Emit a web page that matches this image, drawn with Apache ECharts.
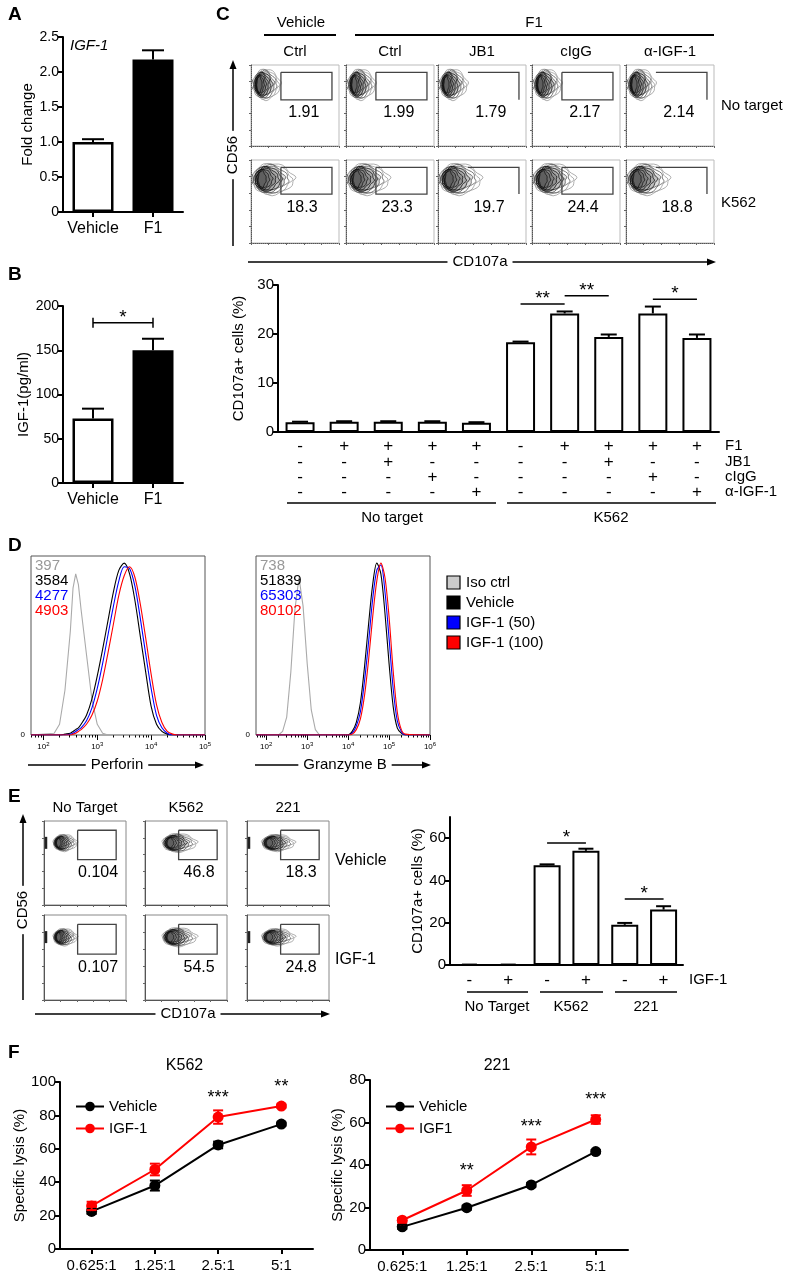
<!DOCTYPE html>
<html>
<head>
<meta charset="utf-8">
<script src="https://cdn.jsdelivr.net/npm/echarts@6.0.0/dist/echarts.min.js"></script>
<style>
html, body { margin: 0; background: #fff; }
#main { width: 789px; height: 1274px; }
</style>
</head>
<body>
<div id="main"></div>
<script>
// ---- data ----
var groupsA = ['Vehicle', 'F1'];
var foldChange = [1.0, 2.18];
var foldChangeErr = [0.04, 0.13];
var igfConc = [73, 150];
var igfConcErr = [11, 13];

var cCols = ['Ctrl', 'Ctrl', 'JB1', 'cIgG', 'α-IGF-1'];
var cNoTarget = [1.91, 1.99, 1.79, 2.17, 2.14];
var cK562 = [18.3, 23.3, 19.7, 24.4, 18.8];

var cbarTarget = ['No target', 'No target', 'No target', 'No target', 'No target', 'K562', 'K562', 'K562', 'K562', 'K562'];
var cbarValues = [2.0, 2.1, 2.1, 2.1, 1.9, 18.3, 24.2, 19.4, 24.2, 19.2];
var cbarErr = [0.1, 0.1, 0.1, 0.1, 0.1, 0.15, 0.4, 0.5, 1.4, 0.7];
var rowF1 = ['-', '+', '+', '+', '+', '-', '+', '+', '+', '+'];
var rowJB1 = ['-', '-', '+', '-', '-', '-', '-', '+', '-', '-'];
var rowIgG = ['-', '-', '-', '+', '-', '-', '-', '-', '+', '-'];
var rowAnti = ['-', '-', '-', '-', '+', '-', '-', '-', '-', '+'];
var cSig = [[5, 6, 26.1], [6, 7, 27.8], [8, 9, 27.1]];
var cSigText = ['**', '**', '*'];

var perfX = [1.77, 2.2, 2.3, 2.4, 2.5, 2.55, 2.6, 2.65, 2.7, 2.8, 2.9, 3.0, 3.1, 3.2, 3.3, 3.4, 3.5, 3.6, 3.7, 3.8, 3.9, 4.0, 4.1, 4.2, 4.3, 4.4, 4.5, 5.0];
var perfIso = [0, 1, 6, 25, 58, 82, 90, 84, 70, 45, 20, 6, 1, 0, 0, 0, 0, 0, 0, 0, 0, 0, 0, 0, 0, 0, 0, 0];
var perfVeh = [0, 0, 0, 0.5, 1, 2, 3, 4, 6, 11, 20, 33, 48, 64, 80, 92, 96, 90, 75, 55, 35, 16, 6, 2, 0.5, 0, 0, 0];
var perfIgf50 = [0, 0, 0, 0, 0.5, 1, 2, 3, 4, 8, 15, 26, 40, 56, 72, 86, 94, 93, 83, 65, 45, 26, 11, 4, 1, 0, 0, 0];
var perfIgf100 = [0, 0, 0, 0, 0, 0.5, 1, 2, 3, 6, 11, 19, 31, 46, 62, 78, 89, 94, 88, 73, 54, 34, 17, 7, 2, 0.5, 0, 0];
var perfMfi = ['397', '3584', '4277', '4903'];

var gzX = [1.75, 2.3, 2.4, 2.5, 2.6, 2.7, 2.8, 2.9, 3.0, 3.1, 3.2, 3.3, 3.9, 4.0, 4.1, 4.2, 4.3, 4.4, 4.5, 4.6, 4.7, 4.8, 4.9, 5.0, 5.1, 5.2, 5.3, 5.4, 6.0];
var gzIso = [0, 0, 2, 10, 35, 70, 88, 72, 40, 14, 3, 0, 0, 0, 0, 0, 0, 0, 0, 0, 0, 0, 0, 0, 0, 0, 0, 0, 0];
var gzVeh = [0, 0, 0, 0, 0, 0, 0, 0, 0, 0, 0, 0, 0, 0, 2, 7, 18, 38, 62, 84, 96, 90, 68, 40, 16, 4, 1, 0, 0];
var gzIgf50 = [0, 0, 0, 0, 0, 0, 0, 0, 0, 0, 0, 0, 0, 0, 1, 5, 13, 30, 52, 76, 92, 95, 80, 54, 26, 8, 2, 0, 0];
var gzIgf100 = [0, 0, 0, 0, 0, 0, 0, 0, 0, 0, 0, 0, 0, 0, 0.5, 3, 9, 22, 42, 66, 86, 96, 88, 66, 36, 13, 3, 0.5, 0];
var gzMfi = ['738', '51839', '65303', '80102'];
var perfTicks = [2, 3, 4, 5];
var gzTicks = [2, 3, 4, 5, 6];
var dLegend = ['Iso ctrl', 'Vehicle', 'IGF-1 (50)', 'IGF-1 (100)'];

var eCols = ['No Target', 'K562', '221'];
var eVehicle = [0.104, 46.8, 18.3];
var eIgf = [0.107, 54.5, 24.8];
var ebarTarget = ['No Target', 'No Target', 'K562', 'K562', '221', '221'];
var ebarValues = [0.1, 0.1, 47.2, 54.0, 19.0, 26.2];
var ebarErr = [0.1, 0.1, 0.4, 1.0, 0.9, 1.6];
var rowIgf = ['-', '+', '-', '+', '-', '+'];
var eSig = [[2, 3, 57.7], [4, 5, 31.2]];
var eSigText = ['*', '*'];

var ratios = ['0.625:1', '1.25:1', '2.5:1', '5:1'];
var k562Veh = [22.5, 38, 62.3, 74.8];
var k562VehErr = [1.5, 3, 2, 1];
var k562Igf = [25.8, 47.6, 79, 85.6];
var k562IgfErr = [2.5, 3.5, 4, 1];
var k562Stars = ['', '', '***', '**'];
var c221Veh = [10.9, 19.9, 30.6, 46.3];
var c221VehErr = [1, 1, 1, 0.8];
var c221Igf = [14, 28, 48.5, 61.4];
var c221IgfErr = [1, 2.5, 3.5, 2];
var c221Stars = ['', '**', '***', '***'];

// ---- helpers ----
var FONT = 'Liberation Sans';
var grids = [], xAxes = [], yAxes = [], series = [], graphics = [], legends = [];

function addGrid(l, t, w, h, extra) {
  grids.push(Object.assign({left: l, top: t, width: w, height: h}, extra || {}));
  return grids.length - 1;
}
function addX(o) { xAxes.push(o); return xAxes.length - 1; }
function addY(o) { yAxes.push(o); return yAxes.length - 1; }

var blackLine = {show: true, lineStyle: {color: '#000', width: 2}};

function statY(g, max, step, name, gap, fmt, custom) {
  return addY({
    gridIndex: g, type: 'value', min: 0, max: max, interval: step,
    axisLine: blackLine,
    axisTick: {show: true, length: 5, customValues: custom, lineStyle: {color: '#000', width: 2}},
    axisLabel: {fontSize: 14, color: '#000', margin: 4, formatter: fmt, customValues: custom},
    splitLine: {show: false},
    name: name, nameLocation: 'middle', nameGap: gap,
    nameTextStyle: {fontSize: 15, color: '#000'}
  });
}
function catX(g, cats, showLabels, ticks) {
  return addX({
    gridIndex: g, type: 'category', data: cats, position: 'bottom',
    axisLine: blackLine,
    axisTick: {show: ticks, alignWithLabel: true, length: 5, lineStyle: {color: '#000', width: 2}},
    axisLabel: {show: showLabels, fontSize: 15, color: '#000', margin: 9, interval: 0}
  });
}
function rowAxis(g, row, off, name) {
  return addX({
    gridIndex: g, type: 'category', data: row, position: 'bottom', offset: off,
    axisLine: {show: false}, axisTick: {show: false},
    axisLabel: {fontSize: 17, color: '#000', margin: 0, verticalAlign: 'middle', interval: 0},
    name: name, nameLocation: 'end', nameGap: 6,
    nameTextStyle: {fontSize: 15, color: '#000', align: 'left', verticalAlign: 'middle'}
  });
}
function errorSeries(xi, yi, vals, errs, cap, color, both) {
  series.push({
    type: 'custom', xAxisIndex: xi, yAxisIndex: yi, z: 5, silent: true,
    data: vals.map(function (v, i) { return [i, v, errs[i]]; }),
    renderItem: function (params, api) {
      var i = api.value(0), v = api.value(1), e = api.value(2);
      var top = api.coord([i, v + e]);
      var bot = api.coord([i, both ? v - e : v]);
      var st = {stroke: color, lineWidth: 2};
      var kids = [
        {type: 'line', shape: {x1: top[0], y1: top[1], x2: bot[0], y2: bot[1]}, style: st},
        {type: 'line', shape: {x1: top[0] - cap / 2, y1: top[1], x2: top[0] + cap / 2, y2: top[1]}, style: st}
      ];
      if (both) kids.push({type: 'line', shape: {x1: bot[0] - cap / 2, y1: bot[1], x2: bot[0] + cap / 2, y2: bot[1]}, style: st});
      return {type: 'group', children: kids};
    }
  });
}
function sigSeries(xi, yi, rows, labels, ends) {
  series.push({
    type: 'custom', xAxisIndex: xi, yAxisIndex: yi, z: 6, silent: true,
    data: rows, encode: {x: [0, 1], y: 2},
    renderItem: function (params, api) {
      var a = api.coord([api.value(0), api.value(2)]);
      var b = api.coord([api.value(1), api.value(2)]);
      var st = {stroke: '#000', lineWidth: 1.5};
      var kids = [
        {type: 'line', shape: {x1: a[0], y1: a[1], x2: b[0], y2: b[1]}, style: st},
        {type: 'text', x: (a[0] + b[0]) / 2, y: a[1] + 4,
          style: {text: labels[params.dataIndex], fontSize: 19, fontFamily: FONT, fill: '#000', align: 'center', verticalAlign: 'bottom'}}
      ];
      if (ends) {
        kids.push({type: 'line', shape: {x1: a[0], y1: a[1] - 5, x2: a[0], y2: a[1] + 5}, style: st});
        kids.push({type: 'line', shape: {x1: b[0], y1: b[1] - 5, x2: b[0], y2: b[1] + 5}, style: st});
      }
      return {type: 'group', children: kids};
    }
  });
}

// contour-like blob: nested rings, dense dark core pushed to the left
function contourItem(params, api) {
  var c = api.coord([api.value(0), api.value(1)]);
  var s = api.size([api.value(2), api.value(3)]);
  var edge = api.coord([0, api.value(1)]);
  var kids = [];
  for (var i = 0; i < 10; i++) {
    var f = 1 - i * 0.09;
    var ox = c[0] - s[0] * (1 - f) * 0.55;
    var pts = [];
    for (var k = 0; k < 44; k++) {
      var t = k / 44 * Math.PI * 2;
      var wob = 1 + 0.06 * Math.sin(7 * t + i * 1.9);
      var cx = Math.cos(t), sy = Math.sin(t);
      var rx = s[0] * f * (cx > 0 ? 1 : 0.85);
      var ry = s[1] * (0.4 + 0.6 * f) * (cx > 0 ? 1 - 0.4 * cx * cx : 1);
      pts.push([ox + cx * rx * wob, c[1] - sy * ry * wob]);
    }
    kids.push({type: 'polygon', shape: {points: pts},
      style: {fill: i >= 3 ? 'rgba(0,0,0,0.13)' : 'none', stroke: i < 2 ? '#999' : (i < 4 ? '#555' : '#111'), lineWidth: 0.8}});
  }
  var lx = c[0] - s[0] * 0.8;
  if (lx - edge[0] < 10) {
    // small tail of events piled on the left axis
    kids.push({type: 'polyline', shape: {points: [[edge[0] + 1, c[1] - 5], [lx, c[1]], [edge[0] + 1, c[1] + 5]]},
      style: {stroke: '#555', lineWidth: 0.8, fill: null}});
  }
  if (api.value(4) === 1) {
    kids.push({type: 'line', shape: {x1: edge[0] + 2, y1: c[1] - 6, x2: edge[0] + 2, y2: c[1] + 6},
      style: {stroke: '#222', lineWidth: 2.5}});
  }
  return {type: 'group', children: kids};
}
function gateItem(params, api) {
  var p1 = api.coord([api.value(0), api.value(3)]);
  var p2 = api.coord([api.value(2), api.value(1)]);
  var pts = api.value(4) === 1
    ? [[p1[0], p1[1]], [p2[0], p1[1]], [p2[0], p2[1]]]
    : [[p1[0], p1[1]], [p2[0], p1[1]], [p2[0], p2[1]], [p1[0], p2[1]], [p1[0], p1[1]]];
  return {type: 'polyline', shape: {points: pts}, style: {stroke: '#444', lineWidth: 1.3, fill: null}};
}
function pctItem(params, api) {
  var p = api.coord([api.value(0), api.value(1)]);
  return {type: 'text', x: p[0], y: p[1],
    style: {text: String(api.value(2)), fontSize: 16, fontFamily: FONT, fill: '#000', align: 'center', verticalAlign: 'middle'}};
}
function flowPlot(l, t, w, h, blob, gate, pct, pos, dotted) {
  var g = addGrid(l, t, w, h, {show: true, borderColor: dotted ? '#bbb' : '#888', borderWidth: 1});
  var ax = {type: 'value', min: 0, max: 100, interval: 20,
    axisLine: {show: true, lineStyle: {color: '#555', type: dotted ? 'dotted' : 'solid', width: 1}},
    axisTick: {show: true, length: 2, lineStyle: {color: '#666'}},
    axisLabel: {show: false}, splitLine: {show: false}};
  var xi = addX(Object.assign({gridIndex: g}, ax));
  var yi = addY(Object.assign({gridIndex: g}, ax));
  series.push({type: 'custom', xAxisIndex: xi, yAxisIndex: yi, silent: true, data: [blob], renderItem: contourItem});
  series.push({type: 'custom', xAxisIndex: xi, yAxisIndex: yi, silent: true, data: [gate], renderItem: gateItem});
  series.push({type: 'custom', xAxisIndex: xi, yAxisIndex: yi, silent: true, data: [[pos[0], pos[1], pct]], renderItem: pctItem});
}
function histo(l, t, w, h, xs, curves, min, max, majors) {
  var g = addGrid(l, t, w, h, {show: true, borderColor: '#555', borderWidth: 1});
  var minors = [];
  for (var n = Math.floor(min); n < max; n++) {
    for (var k = 2; k < 10; k++) {
      var v = n + Math.log10(k);
      if (v > min && v < max) minors.push(v);
    }
  }
  var xi = addX({gridIndex: g, type: 'value', min: min, max: max, position: 'bottom',
    axisLine: {show: false}, splitLine: {show: false},
    axisTick: {show: true, customValues: majors, length: 5, lineStyle: {color: '#000'}},
    axisLabel: {show: true, customValues: majors, margin: 6, color: '#000',
      formatter: function (v) { return '{b|10}{s|' + v + '}'; },
      rich: {b: {fontSize: 8, color: '#000'}, s: {fontSize: 6, color: '#000', verticalAlign: 'top', padding: [0, 0, 6, 0]}}}});
  addX({gridIndex: g, type: 'value', min: min, max: max, position: 'bottom',
    axisLine: {show: false}, splitLine: {show: false}, axisLabel: {show: false},
    axisTick: {show: true, customValues: minors, length: 2.5, lineStyle: {color: '#000'}}});
  var yi = addY({gridIndex: g, type: 'value', min: 0, max: 100,
    axisLine: {show: false}, splitLine: {show: false}, axisTick: {show: false},
    axisLabel: {show: true, customValues: [0], fontSize: 8, color: '#000', margin: 6}});
  curves.forEach(function (cv) {
    series.push({type: 'line', xAxisIndex: xi, yAxisIndex: yi, silent: true, symbol: 'none',
      smooth: cv.smooth, data: xs.map(function (x, i) { return [x, cv.y[i]]; }),
      lineStyle: {color: cv.color, width: 1.1}, itemStyle: {color: cv.color}});
  });
}

function txt(x, y, s, size, extra) {
  graphics.push({type: 'text', x: x, y: y, z: 20,
    style: Object.assign({text: s, fill: '#000', fontSize: size, fontFamily: FONT, align: 'center', verticalAlign: 'middle'}, extra || {})});
}
function seg(x1, y1, x2, y2, w) {
  graphics.push({type: 'line', z: 10, shape: {x1: x1, y1: y1, x2: x2, y2: y2}, style: {stroke: '#000', lineWidth: w || 1.5}});
}
function arrow(x1, y1, x2, y2) {
  var a = Math.atan2(y2 - y1, x2 - x1), h = 9, w = 3.5;
  var bx = x2 - h * Math.cos(a), by = y2 - h * Math.sin(a);
  seg(x1, y1, bx, by, 1.5);
  graphics.push({type: 'polygon', z: 10, shape: {points: [[x2, y2],
    [bx - w * Math.sin(a), by + w * Math.cos(a)], [bx + w * Math.sin(a), by - w * Math.cos(a)]]}, style: {fill: '#000'}});
}
function vtext(x, y, s) {
  graphics.push({type: 'text', x: x, y: y, z: 20, rotation: Math.PI / 2,
    style: {text: s, fontSize: 15, fontFamily: FONT, fill: '#000', align: 'center', verticalAlign: 'middle', backgroundColor: '#fff', padding: [0, 5]}});
}
var bgWhite = {backgroundColor: '#fff', padding: [0, 5]};

// ---- panel letters ----
[['A', 8, 15], ['B', 8, 275], ['C', 216, 15], ['D', 8, 546], ['E', 8, 797], ['F', 8, 1053]].forEach(function (p) {
  txt(p[1], p[2], p[0], 19, {align: 'left', fontWeight: 'bold'});
});

// ---- A ----
var gA = addGrid(63, 37, 120, 175);
var xA = catX(gA, groupsA, true, true);
xAxes[xA].axisLabel.fontSize = 16;
var yA = statY(gA, 2.5, 0.5, 'Fold change', 27, function (v) { return v === 0 ? '0' : v.toFixed(1); });
series.push({type: 'bar', xAxisIndex: xA, yAxisIndex: yA, data: foldChange, barWidth: 41, silent: true,
  itemStyle: {color: function (p) { return p.dataIndex === 1 ? '#000' : '#fff'; }, borderColor: '#000', borderWidth: 2.5}});
errorSeries(xA, yA, foldChange, foldChangeErr, 22, '#000', false);
txt(70, 46, 'IGF-1', 15, {align: 'left', fontStyle: 'italic'});

// ---- B ----
var gB = addGrid(63, 306, 120, 177);
var xB = catX(gB, groupsA, true, true);
xAxes[xB].axisLabel.fontSize = 16;
var yB = statY(gB, 200, 50, 'IGF-1(pg/ml)', 30);
series.push({type: 'bar', xAxisIndex: xB, yAxisIndex: yB, data: igfConc, barWidth: 41, silent: true,
  itemStyle: {color: function (p) { return p.dataIndex === 1 ? '#000' : '#fff'; }, borderColor: '#000', borderWidth: 2.5}});
errorSeries(xB, yB, igfConc, igfConcErr, 22, '#000', false);
sigSeries(xB, yB, [[0, 1, 181]], ['*'], true);

// ---- C flow plots ----
var cLefts = [251, 346, 438, 532, 626];
var cGateKind = [0, 0, 1, 0, 1];
txt(301, 23, 'Vehicle', 15); seg(264, 35, 336, 35, 2);
txt(534, 23, 'F1', 15); seg(355, 35, 714, 35, 2);
cCols.forEach(function (name, i) {
  txt(cLefts[i] + 44, 52, name, 15);
  flowPlot(cLefts[i], 65, 88, 81, [17, 76, 17, 19, 0], [34, 57, 92, 91, cGateKind[i]], cNoTarget[i], [60, 41], true);
  flowPlot(cLefts[i], 160, 88, 83, [24, 77, 26, 19, 0], [34, 59, 92, 91, cGateKind[i]], cK562[i], [58, 43], true);
});
txt(721, 106, 'No target', 15, {align: 'left'});
txt(721, 203, 'K562', 15, {align: 'left'});
arrow(233, 246, 233, 60);
vtext(233, 155, 'CD56');
arrow(248, 262, 716, 262);
txt(480, 262, 'CD107a', 15, bgWhite);

// ---- C bar chart ----
var gC = addGrid(278, 285, 441, 147);
var xC = catX(gC, cbarTarget.map(function (t, i) { return t + ' ' + (i % 5 + 1); }), false, false);
var yC = statY(gC, 30, 10, 'CD107a+ cells (%)', 29);
yAxes[yC].axisLabel.fontSize = 15;
rowAxis(gC, rowF1, 14, 'F1');
rowAxis(gC, rowJB1, 30, 'JB1');
rowAxis(gC, rowIgG, 45, 'cIgG');
rowAxis(gC, rowAnti, 60, 'α-IGF-1');
series.push({type: 'bar', xAxisIndex: xC, yAxisIndex: yC, data: cbarValues, barWidth: 29, silent: true,
  itemStyle: {color: '#fff', borderColor: '#000', borderWidth: 2}});
errorSeries(xC, yC, cbarValues, cbarErr, 16, '#000', false);
sigSeries(xC, yC, cSig, cSigText, false);
seg(287, 503, 496, 503, 1.5); seg(507, 503, 716, 503, 1.5);
txt(392, 518, 'No target', 15); txt(611, 518, 'K562', 15);

// ---- D ----
histo(31, 556, 174, 179, perfX, [
  {y: perfIso, color: '#aaa', smooth: false},
  {y: perfVeh, color: '#000', smooth: 0.3},
  {y: perfIgf50, color: '#00f', smooth: 0.3},
  {y: perfIgf100, color: '#f00', smooth: 0.3}
], 1.77, 5, perfTicks);
histo(256, 556, 174, 179, gzX, [
  {y: gzIso, color: '#aaa', smooth: false},
  {y: gzVeh, color: '#000', smooth: 0.3},
  {y: gzIgf50, color: '#00f', smooth: 0.3},
  {y: gzIgf100, color: '#f00', smooth: 0.3}
], 1.75, 6, gzTicks);
var mfiColors = ['#999', '#000', '#00f', '#f00'];
perfMfi.forEach(function (s, i) { txt(35, 566 + i * 15, s, 15, {align: 'left', fill: mfiColors[i]}); });
gzMfi.forEach(function (s, i) { txt(260, 566 + i * 15, s, 15, {align: 'left', fill: mfiColors[i]}); });
var legFill = ['#ccc', '#000', '#00f', '#f00'];
dLegend.forEach(function (s, i) {
  graphics.push({type: 'rect', z: 10, shape: {x: 447, y: 576 + i * 20, width: 13, height: 13},
    style: {fill: legFill[i], stroke: '#000', lineWidth: 1.2}});
  txt(466, 583 + i * 20, s, 15, {align: 'left'});
});
arrow(28, 765, 204, 765);
txt(117, 765, 'Perforin', 15, bgWhite);
arrow(255, 765, 431, 765);
txt(345, 765, 'Granzyme B', 15, bgWhite);

// ---- E flow plots ----
var eLefts = [44, 145, 247];
var eBlobs = [[25, 74, 16, 10, 1], [41, 74, 23, 11, 0], [37, 74, 22, 10, 1]];
eCols.forEach(function (name, i) {
  txt(eLefts[i] + 41, 808, name, 15);
  flowPlot(eLefts[i], 821, 82, 84, eBlobs[i], [41, 54, 88, 89, 0], eVehicle[i], [66, 38], false);
  flowPlot(eLefts[i], 915, 82, 85, eBlobs[i], [41, 54, 88, 89, 0], eIgf[i], [66, 38], false);
});
txt(335, 861, 'Vehicle', 16, {align: 'left'});
txt(335, 960, 'IGF-1', 16, {align: 'left'});
arrow(23, 1000, 23, 814);
vtext(23, 910, 'CD56');
arrow(35, 1014, 330, 1014);
txt(188, 1014, 'CD107a', 15, bgWhite);

// ---- E bar chart ----
var gE = addGrid(450, 817, 233, 148);
var xE = catX(gE, ebarTarget.map(function (t, i) { return t + ' ' + i; }), false, false);
var yE = statY(gE, 70, 20, 'CD107a+ cells (%)', 19, null, [0, 20, 40, 60]);
yAxes[yE].axisLabel.fontSize = 15;
rowAxis(gE, rowIgf, 15, 'IGF-1');
series.push({type: 'bar', xAxisIndex: xE, yAxisIndex: yE, data: ebarValues, barWidth: 27, silent: true,
  itemStyle: {color: '#fff', borderColor: '#000', borderWidth: 2}});
errorSeries(xE, yE, ebarValues, ebarErr, 15, '#000', false);
sigSeries(xE, yE, eSig, eSigText, false);
seg(467, 992, 528, 992, 1.5); seg(540, 992, 603, 992, 1.5); seg(615, 992, 677, 992, 1.5);
txt(497, 1007, 'No Target', 15); txt(571, 1007, 'K562', 15); txt(646, 1007, '221', 15);

// ---- F ----
function lysis(l, t, w, h, max, title, veh, vehErr, igf, igfErr, stars, names, gap) {
  var g = addGrid(l, t, w, h);
  var xi = catX(g, ratios, true, true);
  var yi = statY(g, max, 20, 'Specific lysis (%)', gap);
  yAxes[yi].axisLabel.fontSize = 15;
  series.push({type: 'line', name: names[0], xAxisIndex: xi, yAxisIndex: yi, data: veh, silent: true,
    symbol: 'circle', symbolSize: 11, lineStyle: {color: '#000', width: 2}, itemStyle: {color: '#000'}});
  series.push({type: 'line', name: names[1], xAxisIndex: xi, yAxisIndex: yi, data: igf, silent: true,
    symbol: 'circle', symbolSize: 11, lineStyle: {color: '#f00', width: 2}, itemStyle: {color: '#f00'},
    label: {show: true, position: 'top', distance: 5, fontSize: 18, color: '#000',
      formatter: function (p) { return stars[p.dataIndex]; }}});
  errorSeries(xi, yi, veh, vehErr, 10, '#000', true);
  errorSeries(xi, yi, igf, igfErr, 10, '#f00', true);
  txt(l + w / 2 - 2, 1066, title, 16);
  legends.push({left: l + 10, top: 1094, orient: 'vertical', itemGap: 7, itemWidth: 28, itemHeight: 12,
    selectedMode: false, data: names, textStyle: {fontSize: 15, color: '#000', fontFamily: FONT},
    formatter: function (n) { return n.replace(/ \(.*\)$/, ''); }});
}
lysis(60, 1082, 253, 167, 100, 'K562', k562Veh, k562VehErr, k562Igf, k562IgfErr, k562Stars, ['Vehicle (K562)', 'IGF-1 (K562)'], 30);
lysis(370, 1080, 258, 171, 80, '221', c221Veh, c221VehErr, c221Igf, c221IgfErr, c221Stars, ['Vehicle (221)', 'IGF1 (221)'], 24);

var chart = echarts.init(document.getElementById('main'));
var option = {
  animation: false,
  backgroundColor: '#fff',
  textStyle: {fontFamily: FONT, color: '#000'},
  grid: grids,
  xAxis: xAxes,
  yAxis: yAxes,
  legend: legends,
  series: series,
  graphic: {elements: graphics}
};
chart.setOption(option);
</script>
</body>
</html>
